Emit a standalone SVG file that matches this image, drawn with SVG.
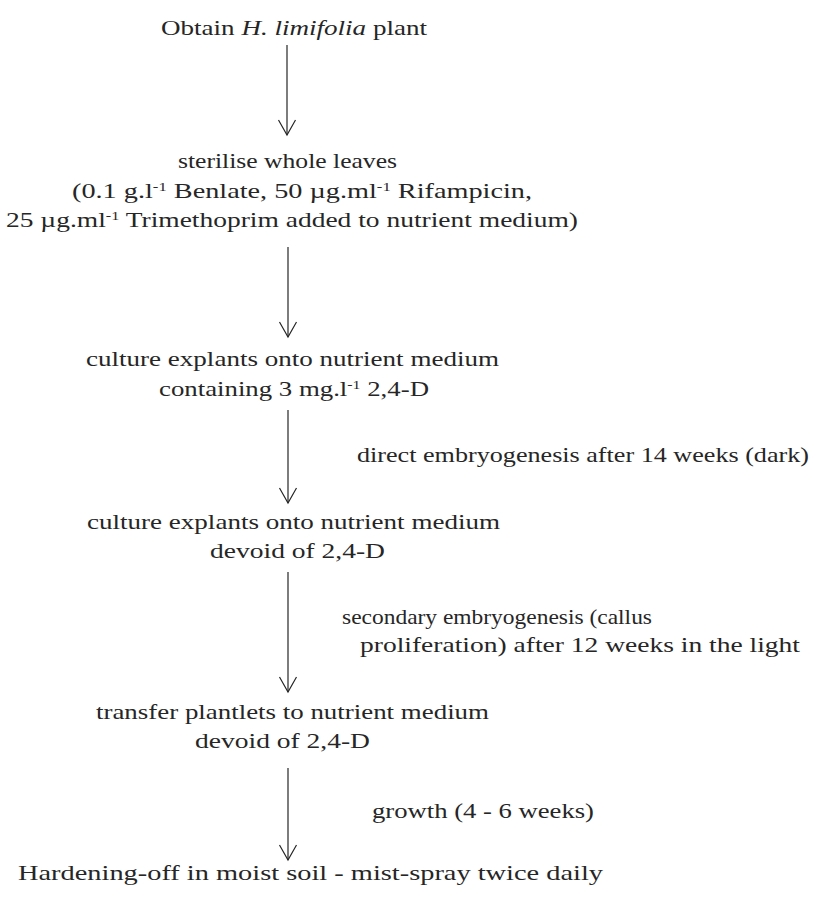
<svg xmlns="http://www.w3.org/2000/svg" width="826" height="898" viewBox="0 0 826 898">
<style>
text{font-family:"Liberation Serif","Times New Roman",serif;font-size:22px;fill:#262626}
.sup{font-size:13px;baseline-shift:super}
.it{font-style:italic}
.c{stroke:#262626;stroke-width:1.2;fill:none}
</style>
<defs>
<marker id="v" markerWidth="20" markerHeight="20" refX="16" refY="10" orient="auto" markerUnits="userSpaceOnUse" viewBox="0 0 20 20">
<path d="M1,1.5 L16,10 L1,18.5" fill="none" stroke="#262626" stroke-width="1.2"/>
</marker>
</defs>
<rect width="826" height="898" fill="#ffffff"/>
<g font-family="Liberation Serif, serif">
<g id="n1"><text x="161" y="35" textLength="266" lengthAdjust="spacingAndGlyphs">Obtain <tspan class="it">H. limifolia</tspan> plant</text></g>
<g id="n2">
<text x="178" y="168" textLength="219" lengthAdjust="spacingAndGlyphs">sterilise whole leaves</text>
<text x="72" y="198" textLength="460" lengthAdjust="spacingAndGlyphs">(0.1 g.l<tspan class="sup">-1</tspan> Benlate, 50 µg.ml<tspan class="sup">-1</tspan> Rifampicin,</text>
<text x="6" y="227" textLength="572" lengthAdjust="spacingAndGlyphs">25 µg.ml<tspan class="sup">-1</tspan> Trimethoprim added to nutrient medium)</text>
</g>
<g id="n3">
<text x="86" y="366" textLength="413" lengthAdjust="spacingAndGlyphs">culture explants onto nutrient medium</text>
<text x="159" y="396" textLength="270" lengthAdjust="spacingAndGlyphs">containing 3 mg.l<tspan class="sup">-1</tspan> 2,4-D</text>
</g>
<g id="n4">
<text x="87" y="529" textLength="413" lengthAdjust="spacingAndGlyphs">culture explants onto nutrient medium</text>
<text x="210" y="558" textLength="175" lengthAdjust="spacingAndGlyphs">devoid of 2,4-D</text>
</g>
<g id="n5">
<text x="96" y="719" textLength="393" lengthAdjust="spacingAndGlyphs">transfer plantlets to nutrient medium</text>
<text x="195" y="748" textLength="175" lengthAdjust="spacingAndGlyphs">devoid of 2,4-D</text>
</g>
<g id="n6"><text x="18" y="880" textLength="585" lengthAdjust="spacingAndGlyphs">Hardening-off in moist soil - mist-spray twice daily</text></g>
<g id="connectors">
<line class="c" x1="287" y1="45" x2="287" y2="135" marker-end="url(#v)"/>
<line class="c" x1="288" y1="247" x2="288" y2="337" marker-end="url(#v)"/>
<line class="c" x1="288" y1="410" x2="288" y2="503" marker-end="url(#v)"/>
<line class="c" x1="288" y1="572" x2="288" y2="692" marker-end="url(#v)"/>
<line class="c" x1="288" y1="768" x2="288" y2="860" marker-end="url(#v)"/>
<text x="357" y="462" textLength="452" lengthAdjust="spacingAndGlyphs">direct embryogenesis after 14 weeks (dark)</text>
<text x="342" y="624" textLength="310" lengthAdjust="spacingAndGlyphs">secondary embryogenesis (callus</text>
<text x="360" y="652" textLength="440" lengthAdjust="spacingAndGlyphs">proliferation) after 12 weeks in the light</text>
<text x="372" y="818" textLength="222" lengthAdjust="spacingAndGlyphs">growth (4 - 6 weeks)</text>
</g>
</g>
</svg>
